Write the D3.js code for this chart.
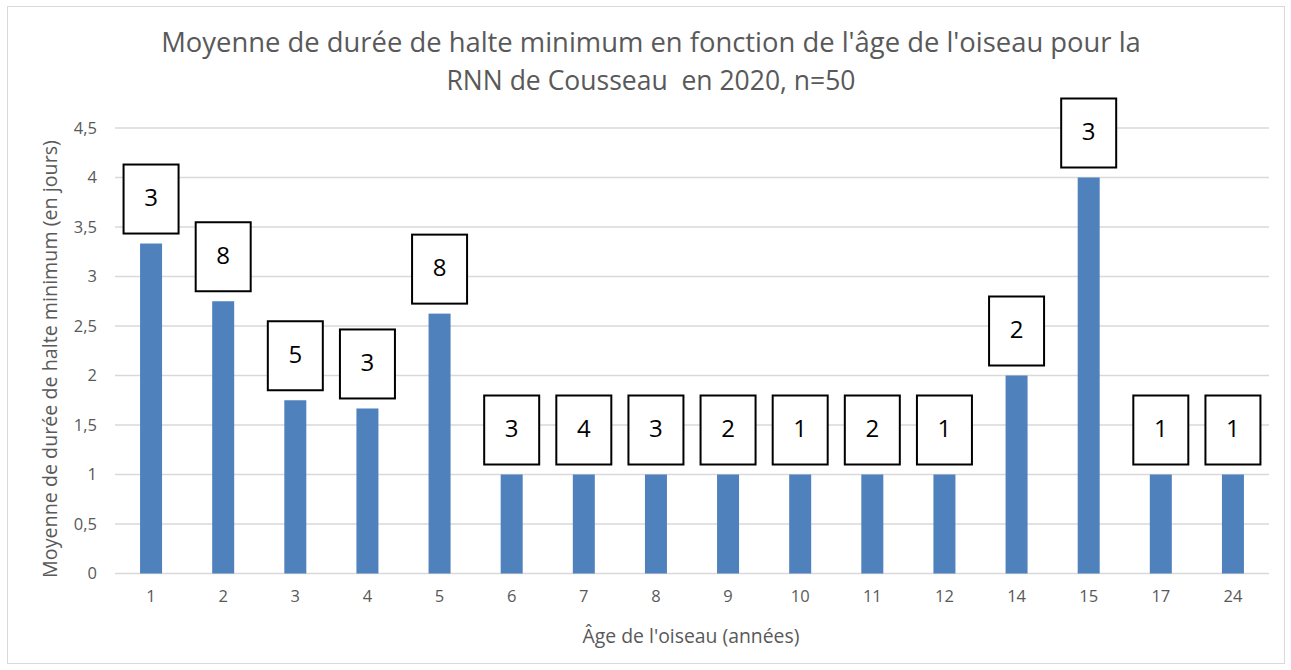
<!DOCTYPE html>
<html>
<head>
<meta charset="utf-8">
<script src="https://cdn.jsdelivr.net/npm/d3@7"></script>
<style>
  body { margin: 0; background: #fff; }
  text { font-family: "Open Sans", "Noto Sans", sans-serif; }
</style>
</head>
<body>
<svg id="chart" width="1291" height="670"></svg>
<script>
// data
const ages = ["1", "2", "3", "4", "5", "6", "7", "8", "9", "10", "11", "12", "14", "15", "17", "24"];
const meanStay = [3.333, 2.75, 1.75, 1.667, 2.625, 1, 1, 1, 1, 1, 1, 1, 2, 4, 1, 1];
const birdCount = [3, 8, 5, 3, 8, 3, 4, 3, 2, 1, 2, 1, 2, 3, 1, 1];
const yTicks = [0, 0.5, 1, 1.5, 2, 2.5, 3, 3.5, 4, 4.5];
const titleLines = ["Moyenne de durée de halte minimum en fonction de l'âge de l'oiseau pour la",
                    "RNN de Cousseau  en 2020, n=50"];

const svg = d3.select("#chart");
const grey = "#595959";

// shrink / grow a text so that it spans the given width
function fitWidth(sel, target) {
  const w = sel.node().getComputedTextLength();
  const fs = parseFloat(sel.style("font-size"));
  sel.style("font-size", (fs * target / w) + "px");
}

// outer chart frame
svg.append("rect")
  .attr("x", 7.5).attr("y", 6.5)
  .attr("width", 1277).attr("height", 657)
  .attr("fill", "#fff")
  .attr("stroke", "#d9d9d9");

const x = d3.scaleBand()
  .domain(ages)
  .range([115, 1269])
  .paddingInner(0.695)
  .paddingOuter(0.3475);

const y = d3.scaleLinear()
  .domain([0, 4.5])
  .range([573.5, 128]);

// gridlines
svg.append("g")
  .selectAll("line")
  .data(yTicks)
  .join("line")
  .attr("x1", 115).attr("x2", 1269)
  .attr("y1", d => y(d)).attr("y2", d => y(d))
  .attr("stroke", "#d9d9d9")
  .attr("stroke-width", 1.5);

// y axis labels
const fmt = d => String(d).replace(".", ",");
const yAxis = svg.append("g")
  .attr("transform", "translate(97,0)")
  .call(d3.axisLeft(y).tickValues(yTicks).tickFormat(fmt).tickSize(0).tickPadding(0));
yAxis.select(".domain").remove();
yAxis.selectAll("text")
  .attr("fill", grey)
  .style("font-size", "16.5px")
  .style("font-family", "'Open Sans', sans-serif");

// x axis labels
const xAxis = svg.append("g")
  .attr("transform", "translate(0,590)")
  .call(d3.axisBottom(x).tickSize(0).tickPadding(0));
xAxis.select(".domain").remove();
xAxis.selectAll("text")
  .attr("fill", grey)
  .style("font-size", "16.5px")
  .style("font-family", "'Open Sans', sans-serif");

// bars
svg.append("g")
  .selectAll("rect")
  .data(ages)
  .join("rect")
  .attr("x", d => x(d))
  .attr("width", x.bandwidth())
  .attr("y", (d, i) => y(meanStay[i]))
  .attr("height", (d, i) => y(0) - y(meanStay[i]))
  .attr("fill", "#4f81bd");

// count boxes above each bar
const boxW = 55, boxH = 69, boxGap = 10;
const boxes = svg.append("g")
  .selectAll("g")
  .data(ages)
  .join("g")
  .attr("transform", (d, i) =>
    `translate(${x(d) + x.bandwidth() / 2 - boxW / 2},${y(meanStay[i]) - boxGap - boxH})`);
boxes.append("rect")
  .attr("width", boxW).attr("height", boxH)
  .attr("fill", "#fff")
  .attr("stroke", "#000")
  .attr("stroke-width", 2);
boxes.append("text")
  .attr("x", boxW / 2).attr("y", boxH / 2 + 7)
  .attr("text-anchor", "middle")
  .style("font-size", "24px")
  .attr("fill", "#000")
  .text((d, i) => birdCount[i]);

// title
const titleWidths = [980, 409];
svg.append("g")
  .selectAll("text")
  .data(titleLines)
  .join("text")
  .attr("x", 651)
  .attr("y", (d, i) => 52 + i * 38)
  .attr("text-anchor", "middle")
  .attr("fill", grey)
  .style("font-size", "26px")
  .style("white-space", "pre")
  .text(d => d)
  .each(function (d, i) { fitWidth(d3.select(this), titleWidths[i]); });

// axis titles
const yTitle = svg.append("text")
  .attr("transform", "translate(57,359) rotate(-90)")
  .attr("text-anchor", "middle")
  .attr("fill", grey)
  .style("font-size", "18px")
  .text("Moyenne de durée de halte minimum (en jours)");
fitWidth(yTitle, 438);

const xTitle = svg.append("text")
  .attr("x", 691).attr("y", 643)
  .attr("text-anchor", "middle")
  .attr("fill", grey)
  .style("font-size", "18px")
  .text("Âge de l'oiseau (années)");
fitWidth(xTitle, 217);
</script>
</body>
</html>
